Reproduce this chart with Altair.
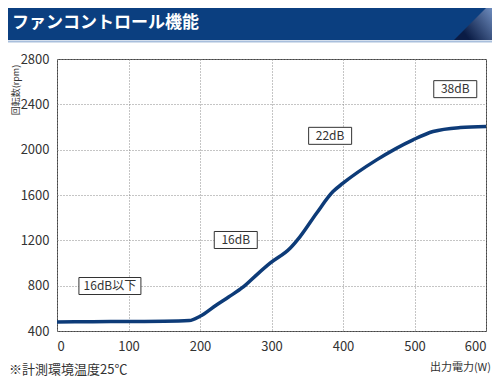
import altair as alt
import pandas as pd

# ---- data ----
watts = [0, 50, 100, 150, 185, 200, 223, 240, 261, 280, 298, 326, 340, 363, 386, 400, 447, 498, 526, 564, 600]
rpm = [480, 482, 484, 486, 492, 530, 630, 700, 791, 900, 998, 1130, 1233, 1439, 1630, 1704, 1910, 2087, 2160, 2195, 2204]

wide_labels = ["16dB以下"]
wide_x = [74]
wide_y = [797]

narrow_labels = ["16dB", "22dB", "38dB"]
narrow_x = [250, 382, 557]
narrow_y = [1203, 2122, 2534]

x_ticks = [0, 100, 200, 300, 400, 500, 600]
y_ticks = [400, 800, 1200, 1600, 2000, 2400, 2800]

title_text = "ファンコントロール機能"
y_title = "回転数(rpm)"
x_title = "出力電力(W)"
footnote = "※計測環境温度25℃"

FONT = "Noto Sans CJK JP"
W, H = 429, 272

curve_df = pd.DataFrame({"w": watts, "rpm": rpm})
wide_df = pd.DataFrame({"w": wide_x, "rpm": wide_y, "label": wide_labels})
narrow_df = pd.DataFrame({"w": narrow_x, "rpm": narrow_y, "label": narrow_labels})

xs = alt.Scale(domain=[0, 600], nice=False)
ys = alt.Scale(domain=[400, 2800], nice=False)

X = alt.X("w:Q", scale=xs, title="",
          axis=alt.Axis(values=x_ticks, format="d", grid=True, ticks=False, domain=False,
                        labelPadding=9, labelFontSize=13, labelColor="#333",
                        labelFont=FONT, gridDash=[1, 2], gridColor="#8a8a8a"))
Y = alt.Y("rpm:Q", scale=ys, title="",
          axis=alt.Axis(values=y_ticks, format="d", grid=True, ticks=False, domain=False,
                        labelPadding=8, labelFontSize=13, labelColor="#333",
                        labelFont=FONT, gridDash=[1, 2], gridColor="#8a8a8a"))

curve = alt.Chart(curve_df).mark_line(
    color="#0d3b78", strokeWidth=3.5, interpolate="monotone"
).encode(x=X, y=Y)

wide_box = alt.Chart(wide_df).mark_rect(
    width=62, height=17, fill="white", stroke="#333", strokeWidth=1
).encode(x=alt.X("w:Q", scale=xs), y=alt.Y("rpm:Q", scale=ys))
wide_txt = alt.Chart(wide_df).mark_text(
    font=FONT, fontSize=12, color="#333"
).encode(x=alt.X("w:Q", scale=xs), y=alt.Y("rpm:Q", scale=ys), text="label:N")

narrow_box = alt.Chart(narrow_df).mark_rect(
    width=43, height=17, fill="white", stroke="#333", strokeWidth=1
).encode(x=alt.X("w:Q", scale=xs), y=alt.Y("rpm:Q", scale=ys))
narrow_txt = alt.Chart(narrow_df).mark_text(
    font=FONT, fontSize=12, color="#333"
).encode(x=alt.X("w:Q", scale=xs), y=alt.Y("rpm:Q", scale=ys), text="label:N")

# ---- decorations (header bar, titles, footnote) ----
bar = alt.Chart(pd.DataFrame({"a": [0]})).mark_rect(color="#0b3f80", clip=False).encode(
    x=alt.value(-49), x2=alt.value(440), y=alt.value(-59), y2=alt.value(-19))
bar_line = alt.Chart(pd.DataFrame({"a": [0]})).mark_rule(color="#a9bfdc", strokeWidth=2).encode(
    x=alt.value(-49), x2=alt.value(440), y=alt.value(-17.5))
corner = alt.Chart(pd.DataFrame({"a": [0]})).mark_point(
    shape="M -1 1 L 1 -1 L 1.4 -1 L 1.4 1 Z", size=1600, filled=True, opacity=1,
    strokeWidth=0,
    fill={"gradient": "linear", "x1": 0.2, "y1": 0.8, "x2": 1, "y2": 0.3,
          "stops": [{"offset": 0, "color": "#0a1c45"},
                    {"offset": 1, "color": "#7d9dd0"}]}
).encode(x=alt.value(417), y=alt.value(-39))
head = alt.Chart(pd.DataFrame({"t": [title_text]})).mark_text(
    font=FONT, fontSize=17, fontWeight="bold", color="white", align="left", baseline="middle"
).encode(x=alt.value(-45), y=alt.value(-36), text="t:N")
ytitle = alt.Chart(pd.DataFrame({"t": [y_title]})).mark_text(
    font=FONT, fontSize=9, color="#333", angle=270, align="center", baseline="middle"
).encode(x=alt.value(-41.5), y=alt.value(31), text="t:N")
xtitle = alt.Chart(pd.DataFrame({"t": [x_title]})).mark_text(
    font=FONT, fontSize=11, color="#333", align="right", baseline="middle"
).encode(x=alt.value(434), y=alt.value(309), text="t:N")
foot = alt.Chart(pd.DataFrame({"t": [footnote]})).mark_text(
    font=FONT, fontSize=13, color="#333", align="left", baseline="middle"
).encode(x=alt.value(-48), y=alt.value(311), text="t:N")

chart = alt.layer(
    curve, wide_box, wide_txt, narrow_box, narrow_txt,
    bar, bar_line, corner, head, ytitle, xtitle, foot
).properties(
    width=W, height=H,
    autosize=alt.AutoSizeParams(type="none"),
    padding={"left": 49, "top": 51, "right": 6, "bottom": 47},
    background="white",
).configure_view(stroke="#444", strokeWidth=1)

chart.save("out.html", embed_options={"renderer": "svg", "actions": False})
